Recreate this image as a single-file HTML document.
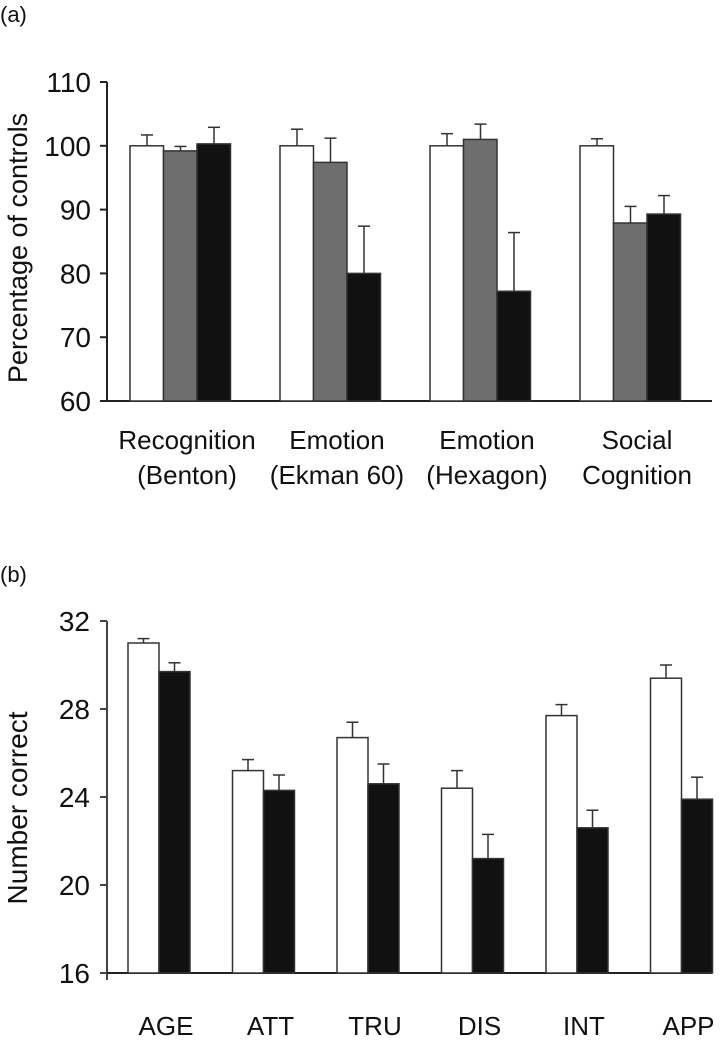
<!DOCTYPE html>
<html><head><meta charset="utf-8"><style>
body{margin:0;background:#fff;}
svg text{font-family:"Liberation Sans","DejaVu Sans",sans-serif;fill:#111;}
</style></head><body>
<svg id="s" width="727" height="1050" xmlns="http://www.w3.org/2000/svg">
<text x="0" y="22" font-size="22">(a)</text>
<text x="0" y="582" font-size="22">(b)</text>
<g id="ga"></g>
<g id="gb"></g>
</svg>
<script>
const catsA=[["Recognition","(Benton)"],["Emotion","(Ekman 60)"],["Emotion","(Hexagon)"],["Social","Cognition"]];
const aWhite=[100,100,100,100], aWhiteErr=[101.7,102.6,101.9,101.1];
const aGray=[99.2,97.4,101,87.9], aGrayErr=[99.9,101.2,103.4,90.5];
const aBlack=[100.3,80,77.2,89.3], aBlackErr=[102.9,87.4,86.4,92.2];
const ticksA=[60,70,80,90,100,110];
const catsB=["AGE","ATT","TRU","DIS","INT","APP"];
const bWhite=[31.0,25.2,26.7,24.4,27.7,29.4], bWhiteErr=[31.2,25.7,27.4,25.2,28.2,30.0];
const bBlack=[29.7,24.3,24.6,21.2,22.6,23.9], bBlackErr=[30.1,25.0,25.5,22.3,23.4,24.9];
const ticksB=[16,20,24,28,32];
const NS="http://www.w3.org/2000/svg";
function mk(p,t,a){const e=document.createElementNS(NS,t);for(const k in a)e.setAttribute(k,a[k]);p.appendChild(e);return e;}
// Chart A
const ga=document.getElementById('ga');
const yA=v=>401-(v-60)*6.38;
mk(ga,'line',{x1:107,y1:yA(110),x2:107,y2:402,stroke:'#222','stroke-width':2});
mk(ga,'line',{x1:100,y1:401,x2:712,y2:401,stroke:'#222','stroke-width':2});
ticksA.forEach(t=>{
  const l=mk(ga,'line',{x1:100,y1:yA(t),x2:107,y2:yA(t),stroke:'#222','stroke-width':2});
  
  
  const tx=mk(ga,'text',{x:91,y:yA(t)+10,'font-size':28,'text-anchor':'end'});tx.textContent=t;
  
  
});
const ta=mk(ga,'text',{x:0,y:0,'font-size':27,'text-anchor':'middle',transform:'translate(27,248) rotate(-90)'});ta.textContent='Percentage of controls';


const seriesA=[[aWhite,aWhiteErr,'#fff'],[aGray,aGrayErr,'#6e6e6e'],[aBlack,aBlackErr,'#111']];
catsA.forEach((c,i)=>{
  const gx=130+i*150;
  seriesA.forEach((s,j)=>{
    const x=gx+j*33.5, v=s[0][i], e=s[1][i], xc=x+17;
    mk(ga,'line',{x1:xc,y1:yA(e),x2:xc,y2:yA(v),stroke:'#333','stroke-width':1.5});
    mk(ga,'line',{x1:xc-6,y1:yA(e),x2:xc+6,y2:yA(e),stroke:'#333','stroke-width':1.5});
    const r=mk(ga,'rect',{x:x,y:yA(v),width:33.5,height:401-yA(v),fill:s[2],stroke:'#333','stroke-width':1.5});
    
    
  });
  const cx=gx+57;
  c.forEach((ln,k)=>{const t=mk(ga,'text',{x:cx,y:449+k*35,'font-size':26,'text-anchor':'middle'});t.textContent=ln;
    
    });
});
// Chart B
const gb=document.getElementById('gb');
const yB=v=>973-(v-16)*22;
mk(gb,'line',{x1:107,y1:yB(32),x2:107,y2:980,stroke:'#444','stroke-width':2});
mk(gb,'line',{x1:100,y1:973,x2:712,y2:973,stroke:'#222','stroke-width':2});
ticksB.forEach(t=>{
  const l=mk(gb,'line',{x1:100,y1:yB(t),x2:107,y2:yB(t),stroke:'#444','stroke-width':2});
  
  
  const tx=mk(gb,'text',{x:90,y:yB(t)+10,'font-size':28,'text-anchor':'end'});tx.textContent=t;
  
  
});
const tb=mk(gb,'text',{x:0,y:0,'font-size':28,'text-anchor':'middle',transform:'translate(27,808) rotate(-90)'});tb.textContent='Number correct';


const seriesB=[[bWhite,bWhiteErr,'#fff'],[bBlack,bBlackErr,'#111']];
catsB.forEach((c,i)=>{
  const gx=128+i*104.5;
  seriesB.forEach((s,j)=>{
    const x=gx+j*31, v=s[0][i], e=s[1][i], xc=x+15.5;
    mk(gb,'line',{x1:xc,y1:yB(e),x2:xc,y2:yB(v),stroke:'#333','stroke-width':1.5});
    mk(gb,'line',{x1:xc-6,y1:yB(e),x2:xc+6,y2:yB(e),stroke:'#333','stroke-width':1.5});
    const r=mk(gb,'rect',{x:x,y:yB(v),width:31,height:973-yB(v),fill:s[2],stroke:'#333','stroke-width':1.5});
    
    
  });
  const t=mk(gb,'text',{x:gx+38,y:1035,'font-size':26,'text-anchor':'middle'});t.textContent=c;
  
  
});
</script>
</body></html>
